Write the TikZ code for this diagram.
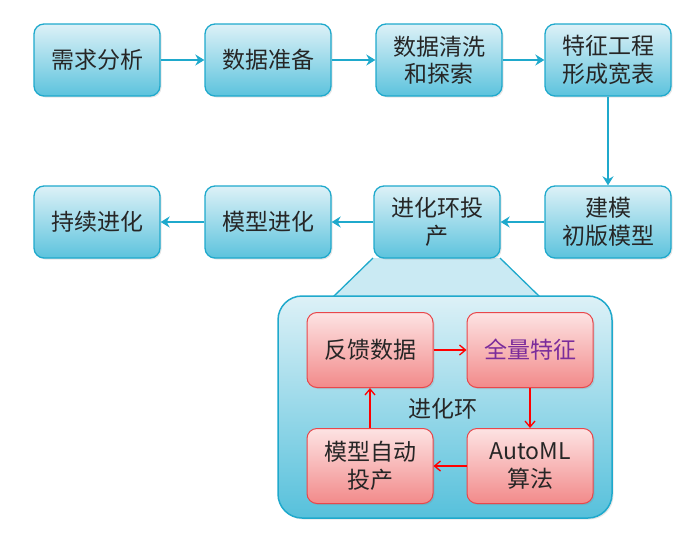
\documentclass[tikz,border=0pt]{standalone}
\usepackage{fontspec}
\setmainfont{Noto Sans CJK SC}
\usetikzlibrary{arrows.meta,shadows}
\definecolor{flowblue}{HTML}{1FA9CC}
\definecolor{flowlight}{HTML}{DDF1F7}
\definecolor{flowdark}{HTML}{5CC3DD}
\definecolor{looprim}{HTML}{E8474B}
\definecolor{looplight}{HTML}{FDE3E3}
\definecolor{loopdark}{HTML}{F28A8A}
\definecolor{looptext}{HTML}{7B2C9B}
\begin{document}
\begin{tikzpicture}[x=1pt, y=-1pt,
  font=\fontsize{23}{27.5}\selectfont,
  st/.style={draw=flowblue, line width=1.3pt, rounded corners=10pt, top color=flowlight,
             bottom color=flowdark, align=center, minimum width=126pt, minimum height=72pt,
             inner sep=2pt, text=black!85,
             drop shadow={opacity=0.2, shadow xshift=1.5pt, shadow yshift=-1.5pt}},
  lp/.style={draw=looprim, line width=1pt, rounded corners=10pt, top color=looplight,
             bottom color=loopdark, align=center, minimum width=126pt, minimum height=75pt,
             inner sep=2pt, text=black!85,
             drop shadow={opacity=0.2, shadow xshift=1.5pt, shadow yshift=-1.5pt}},
  arr/.style={-{Stealth[length=9pt, width=11pt]}, line width=2.5pt, draw=flowblue},
  rarr/.style={-{Straight Barb[length=6pt, width=10pt]}, line width=1.3pt, draw=red},
]
\useasboundingbox (0,0) rectangle (688,554);
% expanded loop behind the deploy step
\filldraw[draw=flowblue, line width=1.3pt, fill=flowlight!85!flowdark]
  (373,258) -- (333,297) -- (540,297) -- (500,258);
\node[draw=flowblue, line width=1.5pt, rounded corners=24pt, top color=flowlight,
      bottom color=flowdark!90!flowblue, minimum width=334pt, minimum height=222pt,
      drop shadow={opacity=0.2, shadow xshift=1.5pt, shadow yshift=-1.5pt}]
  (loopbg) at (445,407) {};
% top row
\node[st] (req)   at (97,60)  {需求分析};
\node[st] (prep)  at (268,60) {数据准备};
\node[st] (clean) at (439,60) {数据清洗\\和探索};
\node[st] (feat)  at (608,60) {特征工程\\形成宽表};
\draw[arr] (req) -- (prep);
\draw[arr] (prep) -- (clean);
\draw[arr] (clean) -- (feat);
% second row
\node[st] (build)  at (608,222) {建模\\初版模型};
\node[st] (deploy) at (437,222) {进化环投\\产};
\node[st] (evolve) at (268,222) {模型进化};
\node[st] (keep)   at (97,222)  {持续进化};
\draw[arr] (feat) -- (build);
\draw[arr] (build) -- (deploy);
\draw[arr] (deploy) -- (evolve);
\draw[arr] (evolve) -- (keep);
% evolution loop
\node[lp] (fb)   at (370,350) {反馈数据};
\node[lp, text=looptext] (full) at (530,350) {全量特征};
\node[lp] (aml)  at (530,466) {AutoML\\算法};
\node[lp] (auto) at (370,466) {模型自动\\投产};
\draw[rarr] (fb) -- (full);
\draw[rarr] (full) -- (aml);
\draw[rarr] (aml) -- (auto);
\draw[rarr] (auto) -- (fb);
\node[text=black!85] (looplab) at (443,409) {进化环};
\end{tikzpicture}
\end{document}
